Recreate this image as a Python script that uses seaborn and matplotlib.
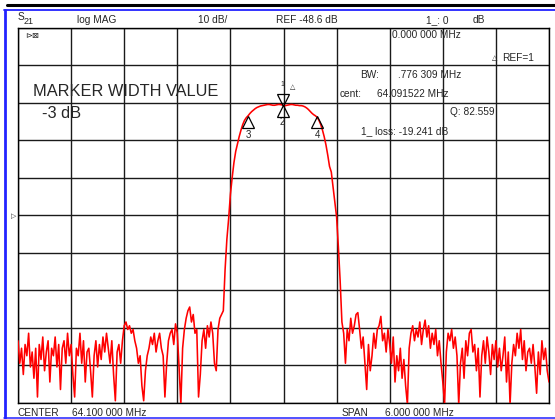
import numpy as np
import matplotlib
matplotlib.use('Agg')
import matplotlib.pyplot as plt
import seaborn as sns
from matplotlib.lines import Line2D
from matplotlib.transforms import offset_copy

# Analyzer settings
f_start, f_stop = 61.1, 67.1          # MHz (center 64.1, span 6)
ref_db = -48.6
db_per_div = 10

# S21 trace in dB, sweep points left to right
noise_left_db = [
    -82, -88, -84, -91, -83, -86, -80, -89, -85, -92,
    -84, -97, -83, -87, -81, -90, -85, -82, -93, -84,
    -86, -81, -89, -83, -95, -84, -82, -88, -80, -86,
    -83, -91, -97, -84, -86, -80, -88, -82, -93, -85,
    -84, -90, -97, -86, -82, -89, -83, -87, -81, -85,
    -80, -84, -88, -82, -91, -98, -85, -83, -88, -82,
    -78, -77, -79, -78, -80, -79, -82, -84, -88, -86,
    -94, -98, -90, -86, -84, -81, -83, -80, -85, -82,
    -80, -84, -86, -97, -88, -82, -80, -79, -83, -77.5,
    -80, -89, -99, -84, -79, -76, -74, -73, -77, -75,
    -80, -79, -97, -91, -82, -79, -84, -78, -81, -77,
    -80, -88, -90, -79, -76, -75, -74,
]
passband_db = [
    -63, -55, -49.5, -43, -38.5, -34.5, -31.5, -29.5, -27.5, -25.8, -24.3,
    -23.2, -22.5, -22.0, -21.4, -20.9, -20.5, -20.1, -19.8, -19.6, -19.4, -19.3,
    -19.2, -19.1, -19.0, -19.0, -19.1, -19.2, -19.2, -19.1, -19.0, -19.0, -19.1,
    -19.2, -19.3, -19.2, -19.1, -19.0, -19.0, -19.1, -19.2, -19.2, -19.3, -19.3,
    -19.4, -19.6, -19.9, -20.3, -20.8, -21.3, -21.7, -22.0, -22.4, -23.2, -24.3,
    -25.8, -27.6, -29.8, -32.5, -35.5, -37, -41, -45, -49, -57, -66,
]
noise_right_db = [
    -77, -80, -88, -79, -82, -76, -80,
    -78, -75, -74.5, -79, -84, -81, -88, -95, -83, -90,
    -86, -80, -84, -79, -78, -75.5, -82, -80, -85, -79,
    -83, -88, -81, -93, -86, -90, -84, -92, -87, -94,
    -99, -84, -80, -78, -82, -79, -81, -77, -83, -79,
    -76.5, -81, -78, -84, -80, -83, -79, -86, -82, -88,
    -93, -99, -85, -80, -82, -79, -84, -81, -86, -99,
    -88, -84, -92, -82, -86, -80, -79, -85, -83, -90,
    -84, -97, -86, -82, -88, -81, -85, -91, -83, -87,
    -82, -89, -84, -90, -86, -81, -93, -85, -99, -88,
    -83, -86, -80, -84, -79, -87, -82, -90, -85, -84,
    -88, -83, -89, -96, -85, -91, -82, -87, -84, -90, -93,
]
trace_db = noise_left_db + passband_db + noise_right_db
freq = np.linspace(f_start, f_stop, len(trace_db))

# markers: 1 = reference (delta), 2 = center, 3/4 = -3 dB points
marker_ids = ['1', '2', '3', '4']
marker_freq = [64.091522, 64.091522, 63.703368, 64.479677]
marker_db = [-19.241, -19.241, -22.241, -22.241]

W, H = 555, 419
sns.set_style("white")
plt.rcParams['font.family'] = ['Liberation Sans', 'DejaVu Sans']

fig = plt.figure(figsize=(W / 100, H / 100), dpi=100)
ax = fig.add_axes([18 / W, 1 - 403 / H, 531 / W, 375 / H])

sns.lineplot(x=freq, y=trace_db, ax=ax, color='#ff0000', linewidth=1.15,
             estimator=None, zorder=3)

ax.set_xlim(f_start, f_stop)
ax.set_ylim(ref_db - 5 * db_per_div, ref_db + 5 * db_per_div)
ax.set_xticks(np.linspace(f_start, f_stop, 11))
ax.set_yticks(np.linspace(ref_db - 5 * db_per_div, ref_db + 5 * db_per_div, 11))
ax.grid(True, color='#1a1a1a', linewidth=1.0)
ax.tick_params(length=0, labelbottom=False, labelleft=False)
ax.set_xlabel('')
ax.set_ylabel('')
for sp in ax.spines.values():
    sp.set_color('black')
    sp.set_linewidth(1.0)

# marker triangles + numbers
for mid, mf, md in zip(marker_ids, marker_freq, marker_db):
    if mid == '1':
        tr = offset_copy(ax.transData, fig=fig, x=0, y=4.2, units='points')
        ax.plot([mf], [md], marker='v', ms=8.5, mfc='none', mec='black',
                mew=0.9, transform=tr, zorder=4)
        ax.annotate(mid, (mf, md), xytext=(0, 15), textcoords='offset points',
                    ha='center', va='center', fontsize=5)
        ax.annotate('△', (mf, md), xytext=(7, 13), textcoords='offset points',
                    ha='center', va='center', fontsize=5, family='DejaVu Sans')
    else:
        tr = offset_copy(ax.transData, fig=fig, x=0, y=-4.2, units='points')
        ax.plot([mf], [md], marker='^', ms=8.5, mfc='none', mec='black',
                mew=0.9, transform=tr, zorder=4)
        dy = -12 if mid == '2' else -13
        ax.annotate(mid, (mf, md), xytext=(0, dy), textcoords='offset points',
                    ha='center', va='center', fontsize=7)


def put(x, y, s, size=7.3, **kw):
    fig.text(x / W, 1 - y / H, s, fontsize=size, ha='left', va='center', **kw)


# header
put(18, 17, 'S')
put(24, 21, '21', size=6.5)
put(77, 20, 'log MAG')
put(198, 20, '10 dB/')
put(276, 20, 'REF -48.6 dB')
put(426, 20, '1_: 0')
put(473, 20, 'dB')

# readouts inside the grid
put(25, 36, '⊳⊠', size=6, family='DejaVu Sans')
put(392, 35, '0.000 000 MHz')
put(492, 58, '△', size=5, family='DejaVu Sans')
put(502, 58, 'REF=1')
put(360, 75, 'BW:')
put(398, 75, '.776 309 MHz')
put(340, 94, 'cent:')
put(377, 94, '64.091522 MHz')
put(450, 112, 'Q: 82.559')
put(361, 131, '1_ loss: -19.241 dB')
put(33, 92, 'MARKER WIDTH VALUE', size=11.8)
put(42, 113, '-3 dB', size=11.8)

# footer
put(17, 413, 'CENTER')
put(72, 413, '64.100 000 MHz')
put(342, 413, 'SPAN')
put(385, 413, '6.000 000 MHz')

# reference level pointer
put(11, 216, '▷', size=5, family='DejaVu Sans')

# screen frame
blue = '#2222ff'
fig.add_artist(Line2D([7 / W, 1], [1 - 5 / H] * 2, color='black', lw=2.2))
fig.add_artist(Line2D([4 / W, 1], [1 - 10.5 / H] * 2, color=blue, lw=1.3))
fig.add_artist(Line2D([5.3 / W] * 2, [1 - 10 / H, 1 - 418 / H], color=blue, lw=2))
fig.add_artist(Line2D([4 / W, 1], [1 - 417.5 / H] * 2, color=blue, lw=1.1))

fig.savefig('out.png', dpi=100)
